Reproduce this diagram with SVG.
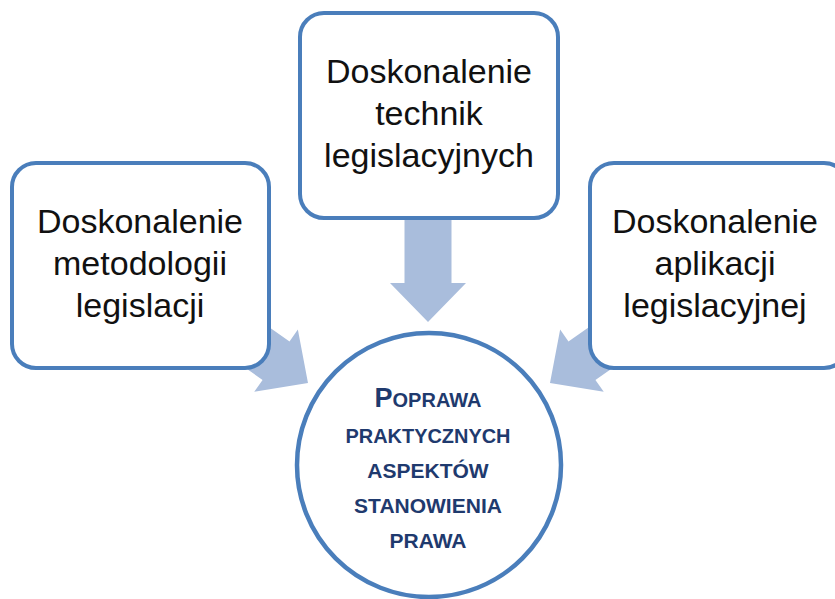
<svg xmlns="http://www.w3.org/2000/svg" width="835" height="599" viewBox="0 0 835 599">
  <defs>
    <style>
      .box { fill: #FFFFFF; stroke: #4A7EBB; stroke-width: 4; }
      .hub { fill: #FFFFFF; stroke: #4A7EBB; stroke-width: 4.5; }
      .arrow { fill: #A9BDDC; stroke: none; }
      .lbl { font-family: "Liberation Sans", Arial, sans-serif; font-size: 34px; fill: #111111; text-anchor: middle; }
      .hubt { font-family: "Liberation Sans", Arial, sans-serif; font-weight: bold; font-size: 21px; fill: #1F3A6E; text-anchor: middle; }
    </style>
    <path id="arr" d="M 0 0 L -39 -38 L -39 -23.5 L -140 -23.5 L -140 23.5 L -39 23.5 L -39 38 Z"/>
  </defs>
  <rect width="835" height="599" fill="#FFFFFF"/>

  <g id="connectors">
    <use href="#arr" class="arrow" transform="translate(428,322) rotate(90)"/>
    <use href="#arr" class="arrow" transform="translate(308,383) rotate(35)"/>
    <use href="#arr" class="arrow" transform="translate(550,383) rotate(145)"/>
  </g>

  <g id="node-technik">
    <rect class="box" x="300" y="13" width="258" height="205" rx="24" ry="24"/>
    <text class="lbl" x="429" y="83">Doskonalenie</text>
    <text class="lbl" x="429" y="125">technik</text>
    <text class="lbl" x="429" y="167">legislacyjnych</text>
  </g>

  <g id="node-metodologia">
    <rect class="box" x="12" y="163" width="257" height="205" rx="24" ry="24"/>
    <text class="lbl" x="140" y="233">Doskonalenie</text>
    <text class="lbl" x="140" y="275">metodologii</text>
    <text class="lbl" x="140" y="317">legislacji</text>
  </g>

  <g id="node-aplikacja">
    <rect class="box" x="590" y="163" width="258" height="205" rx="24" ry="24"/>
    <text class="lbl" x="715" y="233">Doskonalenie</text>
    <text class="lbl" x="715" y="275">aplikacji</text>
    <text class="lbl" x="715" y="317">legislacyjnej</text>
  </g>

  <g id="node-poprawa">
    <circle class="hub" cx="429" cy="465" r="132"/>
    <text class="hubt" x="428" y="407"><tspan font-size="27">P</tspan><tspan font-size="20">OPRAWA</tspan></text>
    <text class="hubt" x="428" y="443" textLength="165" lengthAdjust="spacingAndGlyphs">PRAKTYCZNYCH</text>
    <text class="hubt" x="428" y="478">ASPEKTÓW</text>
    <text class="hubt" x="428" y="513">STANOWIENIA</text>
    <text class="hubt" x="428" y="548">PRAWA</text>
  </g>
</svg>
